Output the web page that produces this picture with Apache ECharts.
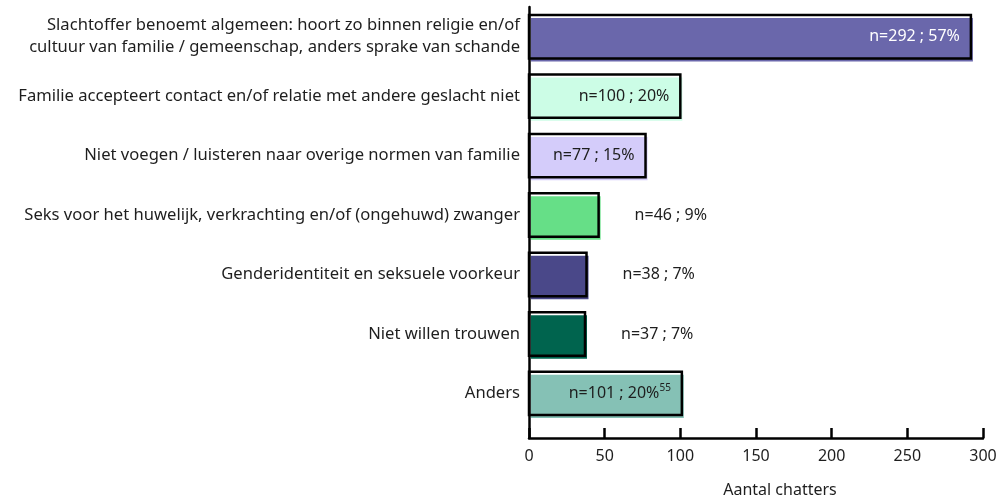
<!DOCTYPE html>
<html>
<head>
<meta charset="utf-8">
<script src="https://cdn.jsdelivr.net/npm/echarts@6/dist/echarts.min.js"></script>
<style>
    html, body { margin: 0; padding: 0; background: #fff; }
    #chart { width: 997px; height: 500px; }
</style>
</head>
<body>
<div id="chart"></div>
<script>
// categorieën (van boven naar beneden)
var categories = [
    'Slachtoffer benoemt algemeen: hoort zo binnen religie en/of\ncultuur van familie / gemeenschap, anders sprake van schande',
    'Familie accepteert contact en/of relatie met andere geslacht niet',
    'Niet voegen / luisteren naar overige normen van familie',
    'Seks voor het huwelijk, verkrachting en/of (ongehuwd) zwanger',
    'Genderidentiteit en seksuele voorkeur',
    'Niet willen trouwen',
    'Anders'
];
var counts = [292, 100, 77, 46, 38, 37, 101];
var percents = [57, 20, 15, 9, 7, 7, 20];
var footnotes = ['', '', '', '', '', '', '55'];
var barColors = ['#6A67AB', '#CCFDE6', '#D4CCFA', '#66DF87', '#4A4889', '#00644E', '#85C1B5'];
var xTicks = [0, 50, 100, 150, 200, 250, 300];

var FONT = '"Noto Sans", sans-serif';
var TEXT_COLOR = '#1e1e1e';

function isDark(hex) {
    var r = parseInt(hex.substr(1, 2), 16), g = parseInt(hex.substr(3, 2), 16), b = parseInt(hex.substr(5, 2), 16);
    return (0.299 * r + 0.587 * g + 0.114 * b) < 140;
}

var seriesData = [];
for (var i = 0; i < counts.length; i++) {
    seriesData.push({value: [counts[i], i + 0.5, percents[i], i]});
}

function renderItem(params, api) {
    var v = api.value(0);
    var y = api.value(1);
    var idx = api.value(3);
    var start = api.coord([0, y]);
    var end = api.coord([v, y]);
    var h = api.size([0, 1])[1] * 0.73;
    var w = end[0] - start[0];
    var color = barColors[idx];
    var txt = '{a|n=' + counts[idx] + ' ; ' + percents[idx] + '%}' + (footnotes[idx] ? '{s|' + footnotes[idx] + '}' : '');
    var inside = counts[idx] >= 60;
    var txtColor = inside && isDark(color) ? '#fff' : TEXT_COLOR;
    return {
        type: 'group',
        children: [
            {
                type: 'rect',
                shape: {x: start[0] + 2, y: start[1] - h / 2 + 3, width: w, height: h},
                style: {fill: color}
            },
            {
                type: 'rect',
                shape: {x: start[0], y: start[1] - h / 2, width: w, height: h},
                style: {fill: null, stroke: '#000', lineWidth: 2.5}
            },
            {
                type: 'text',
                x: inside ? end[0] - 11 : end[0] + 36,
                y: start[1],
                style: {
                    text: txt,
                    align: inside ? 'right' : 'left',
                    verticalAlign: 'middle',
                    fill: txtColor,
                    rich: {
                        a: {fontSize: 16, fontFamily: FONT, fill: txtColor},
                        s: {fontSize: 10, fontFamily: FONT, padding: [0, 0, 10, 0], fill: TEXT_COLOR}
                    }
                },
                z2: 10
            }
        ]
    };
}

var myChart = echarts.init(document.getElementById('chart'));
var option = {
    animation: false,
    grid: {
        left: 529,
        right: 14,
        top: 7,
        bottom: 62,
        outerBoundsMode: 'none'
    },
    xAxis: {
        type: 'value',
        position: 'bottom',
        min: 0,
        max: 300,
        interval: 50,
        name: 'Aantal chatters',
        nameLocation: 'middle',
        nameGap: 44,
        nameTextStyle: {fontSize: 16, fontFamily: FONT, color: TEXT_COLOR, padding: [0, 0, 0, 48]},
        axisLine: {show: true, onZero: false, lineStyle: {color: '#000', width: 2.5}},
        axisTick: {show: true, inside: true, length: 10, lineStyle: {color: '#000', width: 2.5}},
        axisLabel: {
            fontSize: 16, fontFamily: FONT, color: TEXT_COLOR, margin: 10,
            customValues: xTicks
        },
        splitLine: {show: false}
    },
    yAxis: {
        type: 'value',
        inverse: true,
        min: 0,
        max: 7.25,
        axisLine: {show: true, onZero: false, lineStyle: {color: '#000', width: 2.5}},
        axisTick: {show: false},
        splitLine: {show: false},
        axisLabel: {
            customValues: categories.map(function (c, i) { return i + 0.5; }),
            formatter: function (val) { return categories[Math.floor(val)]; },
            fontSize: 16.6,
            lineHeight: 22,
            fontFamily: FONT,
            color: TEXT_COLOR,
            margin: 9,
            align: 'right'
        }
    },
    series: [{
        type: 'custom',
        renderItem: renderItem,
        encode: {x: 0, y: 1},
        data: seriesData
    }]
};
myChart.setOption(option);
</script>
</body>
</html>
